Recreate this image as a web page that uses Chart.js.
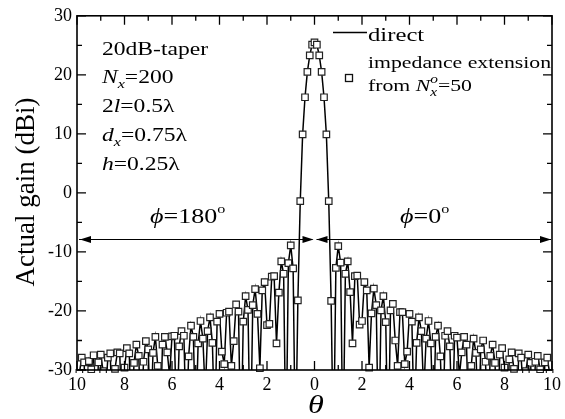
<!DOCTYPE html>
<html><head><meta charset="utf-8">
<script src="https://cdn.jsdelivr.net/npm/chart.js@4.4.1/dist/chart.umd.min.js"></script>
<style>html,body{margin:0;padding:0;background:#fff;}#wrap{width:565px;height:419px;}</style>
</head><body><div id="wrap"><canvas id="c" width="565" height="419"></canvas></div>
<script>
// theta sampled every 0.1 degree, index i -> theta = i*0.1 (0..10)
const thetaStep = 0.1;
// phi = 0 deg (right half), actual gain in dBi (values below -30 are off the chart)
const gainPhi0 = [
  25.5, 25.1, 23.3, 20.5, 16.2, 9.9, -1.4, -18.3, -45, -12.7,
  -9.0, -11.8, -45, -13.7, -11.6, -16.8, -25.5, -14.1, -14.0, -22.3,
  -21.7, -15.1, -16.5, -29.6, -20.4, -16.2, -19.0, -45, -19.9, -17.5,
  -21.9, -45, -19.9, -18.8, -25.0, -29.3, -20.2, -20.2, -29.0, -26.9,
  -20.5, -21.8, -40, -25.4, -21.1, -23.4, -34, -24.7, -21.7, -25.5,
  -40, -24.4, -22.5, -27.7, -40, -24.2, -23.4, -26.0, -40, -24.2,
  -24.5, -31, -27.0, -24.4, -25.7, -40, -29.3, -24.7, -27.1, -40,
  -26.5, -25.0, -28.6, -40, -27.6, -25.7, -28.8, -40, -27.4, -26.3,
  -29.6, -40, -28.2, -27.0, -29.8, -40, -27.2, -27.9, -34, -30.2,
  -27.4, -28.8, -40, -28.6, -27.6, -29.9, -40, -28.7, -27.9, -30.5,
  -33
];
// phi = 180 deg (left half)
const gainPhi180 = [
  25.5, 25.1, 23.3, 20.5, 16.2, 9.9, -1.4, -18.2, -45, -12.8,
  -8.9, -11.9, -45, -13.7, -11.6, -16.9, -25.5, -14.1, -14.2, -22.2,
  -22.4, -15.1, -16.5, -29.7, -20.5, -16.3, -19.0, -45, -19.8, -17.5,
  -21.8, -45, -20.1, -18.9, -25.1, -29.3, -20.1, -20.3, -29.0, -26.9,
  -20.5, -21.8, -40, -25.4, -21.1, -23.4, -34, -24.7, -21.7, -25.5,
  -40, -24.4, -22.5, -27.7, -40, -24.2, -23.4, -26.0, -40, -24.2,
  -24.3, -31, -27.0, -24.4, -25.7, -40, -29.3, -24.4, -27.1, -40,
  -26.5, -25.1, -28.6, -40, -27.6, -25.7, -28.8, -40, -27.2, -26.3,
  -29.6, -40, -27.2, -27.0, -29.8, -40, -27.2, -27.9, -34, -30.2,
  -27.4, -28.7, -40, -27.5, -29.9, -28.5, -40, -28.7, -27.9, -30.5,
  -33
];
const yTickValues = [-30, -20, -10, 0, 10, 20, 30];
const xTickValues = [-10, -8, -6, -4, -2, 0, 2, 4, 6, 8, 10];
const arrowLevel = -7.8;

const F = '"Liberation Serif", monospace';
const reg = s => s + 'px ' + F;
const ita = s => 'italic ' + s + 'px ' + F;
const SX = 1.24;

const pts = [];
for (let i = gainPhi180.length - 1; i >= 1; i--) pts.push({x: -i * thetaStep, y: gainPhi180[i]});
for (let i = 0; i < gainPhi0.length; i++) pts.push({x: i * thetaStep, y: gainPhi0[i]});

function rich(ctx, x, y, parts, sx) {
  ctx.save();
  ctx.translate(x, y);
  ctx.scale(sx, 1);
  ctx.textAlign = 'left';
  ctx.textBaseline = 'alphabetic';
  ctx.fillStyle = '#000';
  let cx = 0, lastStart = 0;
  for (const p of parts) {
    ctx.font = p.f;
    const w = ctx.measureText(p.t).width;
    if (p.stack) {
      ctx.fillText(p.t, lastStart, p.dy || 0);
      cx = Math.max(cx, lastStart + w);
    } else {
      lastStart = cx;
      ctx.fillText(p.t, cx, p.dy || 0);
      cx += w;
    }
  }
  ctx.restore();
}

function arrowHead(ctx, tipX, y, dir) {
  ctx.beginPath();
  ctx.moveTo(tipX, y);
  ctx.lineTo(tipX - dir * 11, y - 3.5);
  ctx.lineTo(tipX - dir * 11, y + 3.5);
  ctx.closePath();
  ctx.fill();
}

const decor = {
  id: 'decor',
  afterDatasetsDraw(chart) {
    const {ctx, chartArea: a, scales: {x, y}} = chart;
    ctx.save();
    ctx.strokeStyle = '#000';
    ctx.fillStyle = '#000';
    // ticks (inward, all four sides)
    ctx.lineWidth = 1.3;
    ctx.beginPath();
    for (let v = -10; v <= 10; v++) {
      const px = x.getPixelForValue(v);
      const len = (v % 2 === 0) ? 9 : 5;
      ctx.moveTo(px, a.bottom); ctx.lineTo(px, a.bottom - len);
      ctx.moveTo(px, a.top); ctx.lineTo(px, a.top + len);
    }
    for (let v = -30; v <= 30; v += 5) {
      const py = y.getPixelForValue(v);
      const len = (v % 10 === 0) ? 9 : 5;
      ctx.moveTo(a.left, py); ctx.lineTo(a.left + len, py);
      ctx.moveTo(a.right, py); ctx.lineTo(a.right - len, py);
    }
    ctx.stroke();
    // frame
    ctx.lineWidth = 1.6;
    ctx.strokeRect(a.left, a.top, a.right - a.left, a.bottom - a.top);

    // phi arrows
    const ay = Math.round(y.getPixelForValue(arrowLevel)) + 0.5;
    const x0 = x.getPixelForValue(0);
    ctx.lineWidth = 1.2;
    ctx.beginPath();
    ctx.moveTo(a.left + 2, ay); ctx.lineTo(x0 - 2, ay);
    ctx.moveTo(x0 + 2, ay); ctx.lineTo(a.right - 1, ay);
    ctx.stroke();
    arrowHead(ctx, a.left + 3, ay, -1);
    arrowHead(ctx, x0 - 1, ay, 1);
    arrowHead(ctx, x0 + 2, ay, -1);
    arrowHead(ctx, a.right - 1, ay, 1);

    rich(ctx, 150, 223, [{t: 'ϕ', f: ita(21)}, {t: '=180', f: reg(21)}, {t: 'o', f: reg(13), dy: -10}], SX);
    rich(ctx, 400, 223, [{t: 'ϕ', f: ita(21)}, {t: '=0', f: reg(21)}, {t: 'o', f: reg(13), dy: -10}], SX);

    // parameter block
    const lx = 102;
    rich(ctx, lx, 55, [{t: '20dB-taper', f: reg(19)}], SX);
    rich(ctx, lx, 83, [{t: 'N', f: ita(19)}, {t: 'x', f: ita(13), dy: 5}, {t: '=200', f: reg(19)}], SX);
    rich(ctx, lx, 112, [{t: '2', f: reg(19)}, {t: 'l', f: ita(19)}, {t: '=0.5λ', f: reg(19)}], SX);
    rich(ctx, lx, 141, [{t: 'd', f: ita(19)}, {t: 'x', f: ita(13), dy: 5}, {t: '=0.75λ', f: reg(19)}], SX);
    rich(ctx, lx, 170, [{t: 'h', f: ita(19)}, {t: '=0.25λ', f: reg(19)}], SX);

    // legend
    ctx.lineWidth = 1.5;
    ctx.beginPath();
    ctx.moveTo(333, 32.5); ctx.lineTo(367, 32.5);
    ctx.stroke();
    rich(ctx, 368, 41, [{t: 'direct', f: reg(19)}], 1.3);
    ctx.fillStyle = '#fff';
    ctx.fillRect(345.5, 74.5, 7, 7);
    ctx.lineWidth = 1.3;
    ctx.strokeStyle = '#111';
    ctx.strokeRect(345.5, 74.5, 7, 7);
    rich(ctx, 368, 68, [{t: 'impedance extension', f: reg(17)}], 1.28);
    rich(ctx, 368, 91, [{t: 'from ', f: reg(17)}, {t: 'N', f: ita(17)}, {t: 'x', f: ita(12), dy: 5}, {t: 'o', f: ita(12), dy: -8, stack: true}, {t: '=50', f: reg(17)}], 1.28);

    // axis titles
    ctx.save();
    ctx.fillStyle = '#000';
    ctx.font = reg(27);
    ctx.textAlign = 'center';
    ctx.textBaseline = 'alphabetic';
    ctx.translate(34, 192);
    ctx.rotate(-Math.PI / 2);
    ctx.fillText('Actual gain (dBi)', 0, 0);
    ctx.restore();

    ctx.save();
    ctx.fillStyle = '#000';
    ctx.font = ita(26);
    ctx.textAlign = 'center';
    ctx.textBaseline = 'alphabetic';
    ctx.translate(316, 413);
    ctx.scale(SX, 1);
    ctx.fillText('θ', 0, 0);
    ctx.restore();

    ctx.restore();
  }
};

new Chart(document.getElementById('c').getContext('2d'), {
  type: 'line',
  data: {
    datasets: [
      {
        label: 'impedance extension from Nx°=50',
        data: pts,
        showLine: false,
        pointStyle: 'rect',
        pointRadius: 4.6,
        pointBorderWidth: 1.2,
        pointBackgroundColor: '#fff',
        pointBorderColor: '#222',
        order: 0,
        clip: {left: 6, right: 6, top: 6, bottom: 3}
      },
      {
        label: 'direct',
        data: pts,
        borderColor: '#000',
        borderWidth: 1.5,
        pointRadius: 0,
        tension: 0,
        order: 1,
        clip: 0
      }
    ]
  },
  options: {
    responsive: false,
    animation: false,
    devicePixelRatio: 1,
    layout: {padding: {top: 12, right: 8, left: 0, bottom: 0}},
    plugins: {legend: {display: false}, tooltip: {enabled: false}},
    scales: {
      x: {
        type: 'linear', min: -10, max: 10,
        afterFit(s) { s.height = 49; },
        afterBuildTicks(s) { s.ticks = xTickValues.map(v => ({value: v})); },
        grid: {display: false, drawTicks: false},
        border: {display: false},
        ticks: {autoSkip: false, maxRotation: 0, padding: 4, color: '#000', font: {family: F, size: 18},
                callback: v => String(Math.abs(v))}
      },
      y: {
        type: 'linear', min: -30, max: 30,
        afterFit(s) { s.width = 77; },
        afterBuildTicks(s) { s.ticks = yTickValues.map(v => ({value: v})); },
        grid: {display: false, drawTicks: false},
        border: {display: false},
        ticks: {padding: 5, color: '#000', font: {family: F, size: 18}}
      }
    }
  },
  plugins: [decor]
});
</script></body></html>
